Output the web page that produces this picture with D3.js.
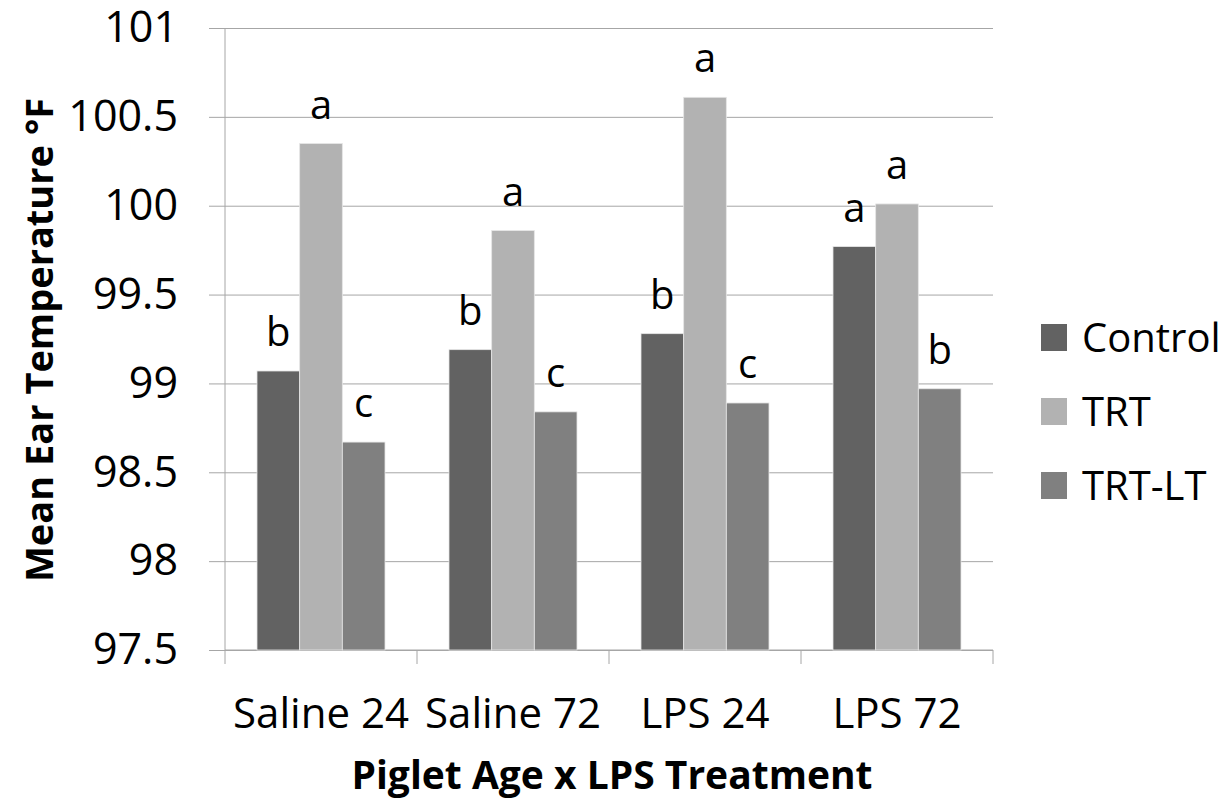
<!DOCTYPE html>
<html>
<head>
<meta charset="utf-8">
<script src="https://cdn.jsdelivr.net/npm/d3@7"></script>
<style>
  body { margin: 0; background: #fff; }
  text { font-family: "Open Sans", sans-serif; fill: #000; }
</style>
</head>
<body>
<div id="chart_bar"></div>
<script>
// chart data
const groups = ["Saline 24", "Saline 72", "LPS 24", "LPS 72"];
const series = ["Control", "TRT", "TRT-LT"];
const control = [99.07, 99.19, 99.28, 99.77];
const trt = [100.35, 99.86, 100.61, 100.01];
const trtLt = [98.67, 98.84, 98.89, 98.97];
const controlLetters = ["b", "b", "b", "a"];
const trtLetters = ["a", "a", "a", "a"];
const trtLtLetters = ["c", "c", "c", "b"];
const yTicks = [97.5, 98, 98.5, 99, 99.5, 100, 100.5, 101];

(function bars() {
    const height = 803,
        width = 1232,
        margin = ({ top: 28, right: 239, bottom: 153, left: 225 });

    const colors = ["#626262", "#b2b2b2", "#808080"];
    const values = [control, trt, trtLt];
    const letters = [controlLetters, trtLetters, trtLtLetters];

    // flatten into one row per bar
    let data = [];
    groups.forEach((g, i) => {
        series.forEach((s, j) => {
            data.push({ group: g, series: s, value: values[j][i], letter: letters[j][i] });
        });
    });

    const svg = d3.select("#chart_bar")
        .append("svg")
        .attr("width", width)
        .attr("height", height)
        .attr("viewBox", [0, 0, width, height]);

    let x0 = d3.scaleBand()
        .domain(groups)
        .range([margin.left, width - margin.right]);

    let x1 = d3.scaleBand()
        .domain(series)
        .range([x0.bandwidth() / 6, x0.bandwidth() * 5 / 6]);

    let y = d3.scaleLinear()
        .domain([97.5, 101])
        .range([height - margin.bottom, margin.top]);

    let color = d3.scaleOrdinal().domain(series).range(colors);

    // gridlines + left axis
    svg.append("g")
        .attr("class", "y-axis")
        .attr("transform", `translate(${margin.left},0)`)
        .call(d3.axisLeft(y).tickValues(yTicks).tickFormat(d3.format("")).tickSize(16).tickPadding(31))
        .call(g => g.select(".domain").remove())
        .call(g => g.selectAll(".tick line").attr("stroke", "#a6a6a6"))
        .call(g => g.selectAll(".tick text").attr("font-size", 43).attr("fill", "#000"))
        .call(g => g.selectAll(".tick").append("line")
            .attr("x1", 0)
            .attr("x2", width - margin.right - margin.left)
            .attr("stroke", "#a6a6a6"));

    svg.append("line")
        .attr("x1", margin.left).attr("x2", margin.left)
        .attr("y1", margin.top).attr("y2", height - margin.bottom)
        .attr("stroke", "#a6a6a6");

    // bottom axis, ticks between groups
    let edges = groups.map(g => x0(g)).concat([width - margin.right]);
    svg.append("line")
        .attr("x1", margin.left).attr("x2", width - margin.right)
        .attr("y1", y(97.5)).attr("y2", y(97.5))
        .attr("stroke", "#a6a6a6");
    svg.append("g")
        .selectAll("line")
        .data(edges)
        .join("line")
            .attr("x1", d => d).attr("x2", d => d)
            .attr("y1", y(97.5)).attr("y2", y(97.5) + 14)
            .attr("stroke", "#a6a6a6");
    svg.append("g")
        .selectAll("text")
        .data(groups)
        .join("text")
            .attr("x", d => x0(d) + x0.bandwidth() / 2)
            .attr("y", 728)
            .attr("text-anchor", "middle")
            .attr("font-size", 42)
            .text(d => d);

    // the bars
    svg.append("g")
        .selectAll("rect")
        .data(data)
        .join("rect")
            .attr("x", d => x0(d.group) + x1(d.series))
            .attr("y", d => y(d.value))
            .attr("width", x1.bandwidth())
            .attr("height", d => y(97.5) - y(d.value))
            .attr("fill", d => color(d.series))
            .attr("stroke", "#e6e6e6")
            .attr("stroke-width", 0.8);

    // significance letters
    svg.append("g")
        .selectAll("text")
        .data(data)
        .join("text")
            .attr("x", d => x0(d.group) + x1(d.series) + x1.bandwidth() / 2)
            .attr("y", d => y(d.value) - 25)
            .attr("text-anchor", "middle")
            .attr("font-size", 40)
            .text(d => d.letter);

    // legend
    let legend = svg.append("g")
        .selectAll("g")
        .data(series)
        .join("g")
            .attr("transform", (d, i) => `translate(1041,${324 + i * 74})`);
    legend.append("rect")
        .attr("width", 26).attr("height", 27)
        .attr("fill", d => color(d));
    legend.append("text")
        .attr("x", 41)
        .attr("y", 28)
        .attr("font-size", 40)
        .text(d => d);

    // axis titles
    svg.append("text")
        .attr("class", "x-label")
        .attr("text-anchor", "middle")
        .attr("x", 612)
        .attr("y", 789)
        .attr("font-size", 39)
        .attr("font-weight", "bold")
        .text("Piglet Age x LPS Treatment");

    svg.append("text")
        .attr("class", "y-label")
        .attr("text-anchor", "middle")
        .attr("transform", "translate(53,340) rotate(-90)")
        .attr("font-size", 38)
        .attr("font-weight", "bold")
        .text("Mean Ear Temperature °F");
})();
</script>
</body>
</html>
